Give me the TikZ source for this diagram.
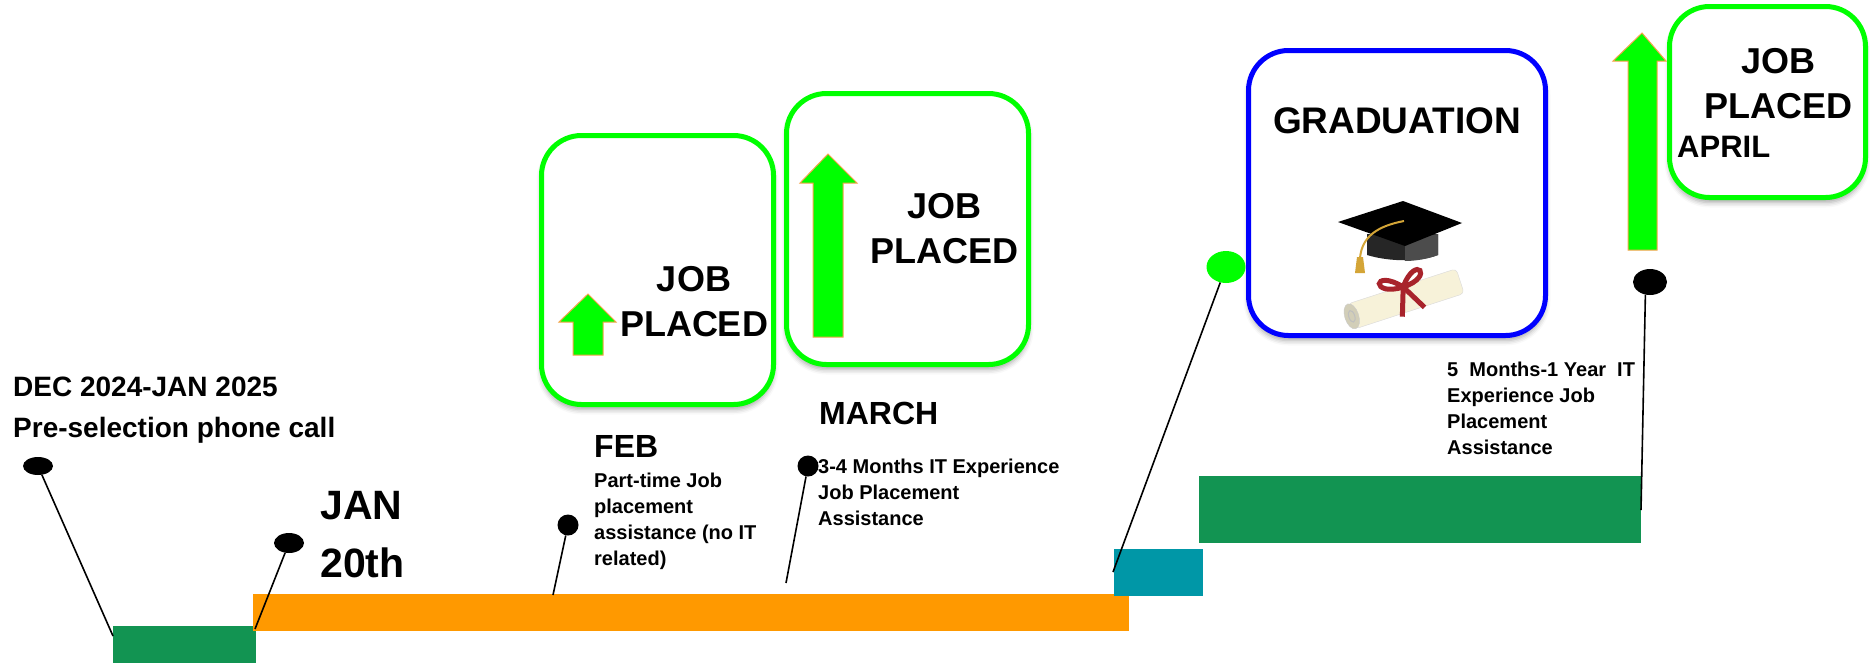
\documentclass[tikz,border=0pt]{standalone}
\usepackage{fontspec}
\setmainfont{Liberation Sans}
\usetikzlibrary{shapes.geometric,shadows.blur}
\definecolor{placedgreen}{HTML}{00FF00}
\definecolor{arroworange}{HTML}{F6A34A}
\definecolor{bargreen}{HTML}{129452}
\definecolor{barorange}{HTML}{FF9900}
\definecolor{barteal}{HTML}{0097A7}
\definecolor{gradblue}{HTML}{0000FF}
\definecolor{tasselgold}{HTML}{D4A537}
\definecolor{scrollcream}{HTML}{F7F2D9}
\definecolor{ribbonred}{HTML}{A8232B}

\begin{document}
\begin{tikzpicture}[x=1pt, y=-1pt,
    bar/.style={rectangle, inner sep=0pt, outer sep=0pt},
    pin/.style={ellipse, fill=black, inner sep=0pt},
    pinline/.style={line width=1.6pt},
    roundbox/.style={rectangle, rounded corners=40pt, line width=5pt, fill=white, inner sep=0pt,
      blur shadow={shadow xshift=0pt, shadow yshift=-5pt, shadow blur radius=5pt, shadow opacity=35}},
    upshape/.style={fill=placedgreen, draw=arroworange, line width=1pt},
    placedtext/.style={font=\fontsize{36}{45}\selectfont\bfseries, align=center, inner sep=0pt},
    monthtext/.style={font=\fontsize{32}{40}\selectfont\bfseries, inner sep=0pt},
    notetext/.style={font=\fontsize{20}{26}\selectfont\bfseries, align=left, inner sep=0pt}]
    \useasboundingbox (0,0) rectangle (1870,664);

    % Timeline bars
    \node[bar, fill=bargreen, minimum width=143pt, minimum height=37pt] (callBar) at (184.5,644.5) {};
    \node[bar, fill=barorange, minimum width=876pt, minimum height=37pt] (janBar) at (691,612.5) {};
    \node[bar, fill=barteal, minimum width=89pt, minimum height=47pt] (gradBar) at (1158.5,572.5) {};
    \node[bar, fill=bargreen, minimum width=442pt, minimum height=67pt] (itBar) at (1420,509.5) {};

    % Job placed boxes
    \node[roundbox, draw=placedgreen, minimum width=232pt, minimum height=269pt] (febBox) at (657.5,270) {};
    \node[roundbox, draw=placedgreen, minimum width=242pt, minimum height=271pt] (marchBox) at (907.5,229) {};
    \node[roundbox, draw=gradblue, minimum width=297pt, minimum height=285pt] (gradBox) at (1397,193) {};
    \node[roundbox, draw=placedgreen, minimum width=196pt, minimum height=191pt] (aprilBox) at (1767.5,102) {};

    % Up arrows
    \filldraw[upshape] (588,294) -- (616,322) -- (603,322) -- (603,355) -- (573,355) -- (573,322) -- (559,322) -- cycle;
    \filldraw[upshape] (828,154) -- (857,183) -- (843,183) -- (843,337) -- (813,337) -- (813,183) -- (800,183) -- cycle;
    \filldraw[upshape] (1642,33) -- (1666,61) -- (1657,61) -- (1657,250) -- (1628,250) -- (1628,61) -- (1613,61) -- cycle;

    % Box texts (base is the last line)
    \node[placedtext, anchor=base] (febPlaced) at (694,336) {JOB\\PLACED};
    \node[placedtext, anchor=base] (marchPlaced) at (944,263) {JOB\\PLACED};
    \node[placedtext, anchor=base, font=\fontsize{37}{45}\selectfont\bfseries] (gradTitle) at (1397,133) {GRADUATION};
    \node[placedtext, anchor=base] (aprilPlaced) at (1778,118) {JOB\\PLACED};
    \node[placedtext, anchor=base west, font=\fontsize{31}{40}\selectfont\bfseries] (aprilTitle) at (1677,157) {APRIL};

    % Graduation cap
    \fill[black!85] (1367,234) -- (1367,255) .. controls (1390,262) and (1420,262) .. (1438,255) -- (1438,234) -- cycle;
    \fill[black!70] (1405,240) -- (1438,234) -- (1438,255) .. controls (1428,259) and (1415,261) .. (1405,261) -- cycle;
    \fill[black] (1338,222) -- (1403,201) -- (1462,223) -- (1405,246) -- cycle;
    \draw[tasselgold, line width=2pt] (1404,221) .. controls (1378,226) and (1362,236) .. (1360,258);
    \fill[tasselgold] (1357,257) -- (1363,257) -- (1365,273) -- (1355,273) -- cycle;

    % Diploma
    \begin{scope}[shift={(1405,299)}, rotate=18]
      \filldraw[fill=scrollcream, draw=black!15, rounded corners=4pt] (-56,-13) rectangle (58,13);
      \filldraw[fill=scrollcream!85!black, draw=black!20] (-56,0) ellipse (7 and 13);
      \draw[black!25, line width=1pt] (-56,0) ellipse (3 and 6);
      \draw[ribbonred, line width=5pt] (2,-12) .. controls (-22,-40) and (-32,-12) .. (2,-12);
      \draw[ribbonred, line width=5pt] (2,-12) .. controls (24,-40) and (36,-12) .. (2,-12);
      \draw[ribbonred, line width=5pt] (2,-12) -- (-8,16);
      \draw[ribbonred, line width=5pt] (2,-12) -- (16,14);
    \end{scope}

    % Pins
    \node[pin, minimum width=30pt, minimum height=18pt] (callDot) at (38,466) {};
    \node[pin, minimum width=30pt, minimum height=20pt] (janDot) at (289,543) {};
    \node[pin, minimum width=21pt, minimum height=21pt] (febDot) at (568,525) {};
    \node[pin, minimum width=21pt, minimum height=21pt] (marchDot) at (808,466) {};
    \node[pin, fill=placedgreen, minimum width=39pt, minimum height=32pt] (gradDot) at (1226,267) {};
    \node[pin, minimum width=34pt, minimum height=26pt] (aprilDot) at (1650,282) {};

    \coordinate (callEnd) at (113,636);
    \coordinate (janEnd) at (255,629);
    \coordinate (febEnd) at (553,595);
    \coordinate (marchEnd) at (786,583);
    \coordinate (gradEnd) at (1113,572);
    \coordinate (aprilEnd) at (1641,510);

    \draw[pinline] (callDot) -- (callEnd);
    \draw[pinline] (janDot) -- (janEnd);
    \draw[pinline] (febDot) -- (febEnd);
    \draw[pinline] (marchDot) -- (marchEnd);
    \draw[pinline] (gradDot) -- (gradEnd);
    \draw[pinline] (aprilDot.250) -- (aprilEnd);

    % Dates and notes
    \node[monthtext, anchor=base west, font=\fontsize{28}{41}\selectfont\bfseries] (callDate) at (13,396) {DEC 2024-JAN 2025};
    \node[monthtext, anchor=base west, font=\fontsize{28}{41}\selectfont\bfseries] (callNote) at (13,437) {Pre-selection phone call};
    \node[monthtext, anchor=base west, align=left, font=\fontsize{41}{58}\selectfont\bfseries] (janDate) at (320,577) {JAN\\20th};
    \node[monthtext, anchor=base west] (febDate) at (594,457) {FEB};
    \node[notetext, anchor=base west] (febNote) at (594,565) {Part-time Job\\placement\\assistance (no IT\\related)};
    \node[monthtext, anchor=base west] (marchDate) at (819,424) {MARCH};
    \node[notetext, anchor=base west] (marchNote) at (818,525) {3-4 Months IT Experience\\Job Placement\\Assistance};
    \node[notetext, anchor=base west] (itNote) at (1447,454) {5\ \ Months-1 Year\ \ IT\\Experience Job\\Placement\\Assistance};
\end{tikzpicture}
\end{document}
